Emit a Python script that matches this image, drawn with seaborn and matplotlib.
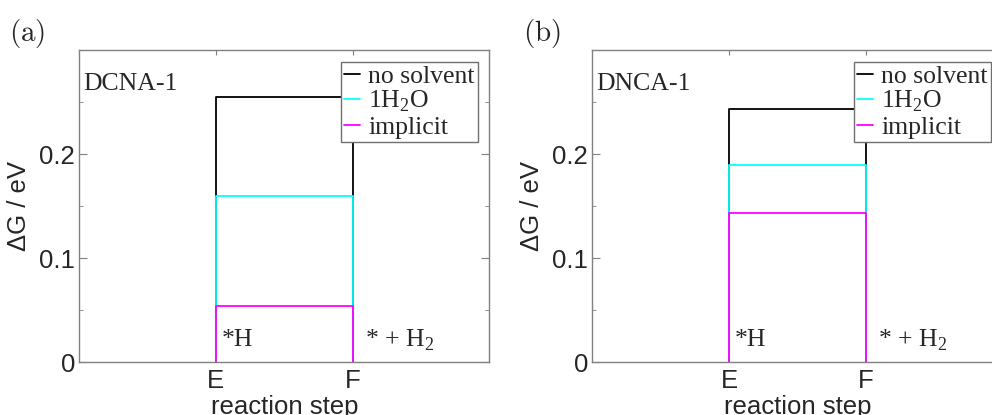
import matplotlib
matplotlib.use("Agg")
import seaborn as sns
import matplotlib.pyplot as plt
import pandas as pd

# datos
pasos = ["E", "F"]
etiquetas_pasos = ["*H", "* + H$_\\mathregular{2}$"]
solventes = ["no solvent", "1H$_\\mathregular{2}$O", "implicit"]
colores = ["black", "#00ffff", "#ff00ff"]
dG_dcna = [0.255, 0.160, 0.054]
dG_dnca = [0.243, 0.189, 0.143]
y_ticks = [0, 0.1, 0.2]
y_ticklabels = ["0", "0.1", "0.2"]
y_minor = [0.05, 0.15, 0.25]

sns.set_style("ticks")
plt.rcParams["font.family"] = ["Liberation Sans", "DejaVu Sans"]
SERIF = ["Liberation Serif", "DejaVu Serif"]
GRIS = "#808080"


def armar_df(valores):
    # cada serie: sube en E, se mantiene hasta F y baja a cero
    filas = []
    xE, xF = 1, 2
    for s, v in zip(solventes, valores):
        for x, y in [(xE, 0), (xE, v), (xF, v), (xF, 0)]:
            filas.append({"paso": x, "dG": y, "solvente": s})
    return pd.DataFrame(filas)


def panel(ax, valores, nombre):
    df = armar_df(valores)
    sns.lineplot(data=df, x="paso", y="dG", hue="solvente", palette=colores,
                 sort=False, estimator=None, linewidth=1.3, ax=ax)
    ax.set_xlim(0, 3)
    ax.set_ylim(0, 0.3)
    ax.set_xticks([1, 2], pasos)
    ax.set_yticks(y_ticks, y_ticklabels)
    ax.set_yticks(y_minor, minor=True)
    ax.tick_params(which="both", direction="in", top=True, right=True,
                   color=GRIS, labelsize=18.5)
    ax.tick_params(axis="y", which="major", length=5.8, pad=3)
    ax.tick_params(axis="y", which="minor", length=2.9)
    ax.tick_params(axis="x", length=3.6, pad=5)
    for sp in ax.spines.values():
        sp.set_color(GRIS)
        sp.set_linewidth(1)
    ax.set_xlabel("reaction step", fontsize=18.5, labelpad=1.5)
    ax.set_ylabel("ΔG / eV", fontsize=18.5, labelpad=6)

    ax.text(0.009, 0.872, nombre, transform=ax.transAxes, family=SERIF,
            fontsize=18.5, va="baseline", ha="left")
    ax.text(1.045, 0.015, etiquetas_pasos[0], family=SERIF, fontsize=18.5,
            va="baseline", ha="left")
    ax.text(2.09, 0.015, etiquetas_pasos[1], family=SERIF, fontsize=18.5,
            va="baseline", ha="left")

    sns.move_legend(ax, "upper right", title=None, frameon=True,
                    fancybox=False, framealpha=1,
                    prop={"family": SERIF, "size": 18.5},
                    labelspacing=0.05, handlelength=0.65, handletextpad=0.3,
                    borderpad=0.12, borderaxespad=0.45)
    leg = ax.get_legend()
    leg.get_frame().set_edgecolor("#707070")
    leg.get_frame().set_linewidth(1)
    for ln in leg.get_lines():
        ln.set_linewidth(1.3)


fig = plt.figure(figsize=(9.92, 4.15), dpi=100)
ax_a = fig.add_axes([0.0799, 0.1277, 0.4133, 0.7518])
ax_b = fig.add_axes([0.5971, 0.1277, 0.4133, 0.7518])
panel(ax_a, dG_dcna, "DCNA-1")
panel(ax_b, dG_dnca, "DNCA-1")

fig.text(0.009, 0.92, r"$\mathrm{(a)}$", fontsize=21, math_fontfamily="cm",
         va="center", ha="left")
fig.text(0.527, 0.92, r"$\mathrm{(b)}$", fontsize=21, math_fontfamily="cm",
         va="center", ha="left")

fig.savefig("out.png", dpi=100)
